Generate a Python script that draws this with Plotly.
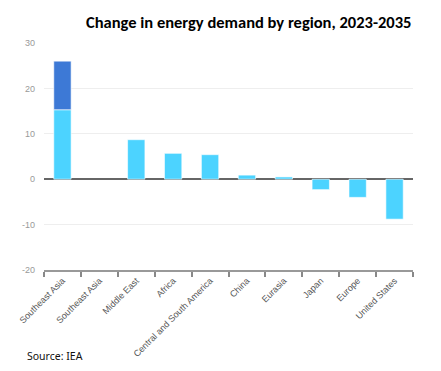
import plotly.graph_objects as go

categories = ["Southeast Asia", "Southeast Asia ", "Middle East", "Africa",
              "Central and South America", "China", "Eurasia", "Japan",
              "Europe", "United States"]
tick_labels = ["Southeast Asia", "Southeast Asia", "Middle East", "Africa",
               "Central and South America", "China", "Eurasia", "Japan",
               "Europe", "United States"]
base_values = [15.3, None, 8.7, 5.7, 5.4, 0.9, 0.5, -2.3, -4.0, -8.8]
extra_values = [10.7, None, None, None, None, None, None, None, None, None]
y_ticks = [-20, -10, 0, 10, 20, 30]
y_tick_labels = ["-20", "-10", "0", "10", "20", "30"]

fig = go.Figure()
fig.add_trace(go.Bar(x=categories, y=base_values, marker=dict(
    color="#4cd3ff", line=dict(color="rgba(255,255,255,0.6)", width=1)),
    showlegend=False))
fig.add_trace(go.Bar(x=categories, y=extra_values, marker=dict(
    color="#3d79d6", line=dict(color="rgba(255,255,255,0.6)", width=1)),
    showlegend=False))

fig.update_layout(
    width=441, height=371, barmode="relative", bargap=0.53,
    margin=dict(l=44, r=28, t=43, b=99),
    plot_bgcolor="white", paper_bgcolor="white",
    font=dict(family="Liberation Sans, Arial", size=9, color="#555"),
    annotations=[
        dict(text="<b>Change in energy demand by region, 2023-2035</b>",
             xref="paper", yref="paper", x=1.0, y=1.0, xanchor="right",
             yanchor="bottom", yshift=9, showarrow=False,
             font=dict(family="Carlito, Lato", size=16.5, color="#000")),
        dict(text="Source: IEA", xref="paper", yref="paper", x=0, y=0,
             xshift=-19, yshift=-77, xanchor="left", yanchor="top",
             showarrow=False,
             font=dict(family="Noto Sans", size=10.5, color="#111")),
    ],
)
fig.update_xaxes(type="category", tickmode="array", tickvals=categories,
                 ticktext=tick_labels, tickangle=-45, tickson="boundaries",
                 ticks="outside", ticklen=5, tickcolor="#888", tickwidth=1.5,
                 showline=True, linecolor="#999", linewidth=2,
                 showgrid=False, tickfont=dict(size=9, color="#555"))
fig.update_yaxes(range=[-20, 30], tickmode="array", tickvals=y_ticks,
                 ticktext=y_tick_labels, ticklabelstandoff=8, showgrid=True,
                 gridcolor="#eeeeee", gridwidth=1, zeroline=True,
                 zerolinecolor="#666", zerolinewidth=1.5,
                 tickfont=dict(size=9, color="#999"), ticks="", ticklen=0)

fig.write_html("out.html", config={"displayModeBar": False},
               post_script="document.body.style.margin='0';document.body.style.padding='0';")
